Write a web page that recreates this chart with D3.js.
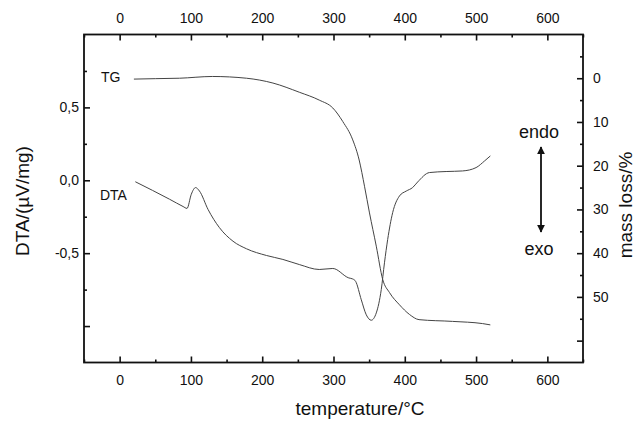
<!DOCTYPE html>
<html>
<head>
<meta charset="utf-8">
<script src="https://cdn.jsdelivr.net/npm/d3@7"></script>
<style>
  body { margin: 0; background: #fff; }
  text { font-family: "Liberation Sans", Arial, sans-serif; fill: #111; }
</style>
</head>
<body>
<svg id="chart" width="637" height="422"></svg>
<script>
// Thermal analysis data: TG (mass loss, right axis) and DTA (left axis) vs temperature
const tgTemp = [20, 50, 84, 130, 178, 215, 252, 280, 299, 313, 327, 336, 343.5, 350.5, 360, 369, 378.5, 392.5, 406.5, 420, 467, 509, 520];
const tgMass = [0.2, 0.1, 0.0, -0.4, 0.0, 1.1, 3.2, 5.0, 6.8, 9.9, 14.1, 18.7, 24.7, 30.8, 38.4, 46.0, 49.0, 51.8, 54.0, 55.2, 55.6, 56.1, 56.4];

const dtaTemp = [22, 70, 89, 94.5, 100.5, 106.5, 112, 124, 140, 159, 178, 206, 229, 252, 280, 299, 321.5, 327, 331, 339, 346, 353, 360, 367, 371.5, 376, 383, 392.5, 402, 411, 418, 434.6, 458, 481, 500, 512, 520];
const dtaValue = [-0.01, -0.13, -0.18, -0.193, -0.096, -0.05, -0.074, -0.2, -0.325, -0.418, -0.47, -0.516, -0.543, -0.578, -0.612, -0.605, -0.67, -0.677, -0.693, -0.82, -0.923, -0.96, -0.91, -0.75, -0.566, -0.406, -0.222, -0.108, -0.074, -0.05, -0.012, 0.053, 0.06, 0.064, 0.087, 0.133, 0.167];

// Axis ticks
const tempTicks = [0, 100, 200, 300, 400, 500, 600];
const tempMinorTicks = [-50, 50, 150, 250, 350, 450, 550, 650];
const dtaTicks = [-1.0, -0.5, 0.0, 0.5];
const dtaTickLabels = ["", "-0,5", "0,0", "0,5"];
const dtaMinorTicks = [-0.75, -0.25, 0.25, 0.75];
const massTicks = [0, 10, 20, 30, 40, 50, 60];
const massTickLabels = ["0", "10", "20", "30", "40", "50", ""];
const massMinorTicks = [-5, 5, 15, 25, 35, 45, 55];

(function draw() {
  const svg = d3.select("#chart");
  const box = { left: 84, right: 583, top: 34.5, bottom: 362.5 };

  const x = d3.scaleLinear().domain([-50, 650]).range([box.left, box.right]);
  const yDta = d3.scaleLinear().domain([-1.25, 1.0]).range([box.bottom, box.top]);
  const yMass = d3.scaleLinear().domain([-10, 65]).range([box.top, box.bottom]);

  const axisColor = "#111";

  function styleAxis(g) {
    g.select(".domain").remove();
    g.selectAll(".tick line").attr("stroke", axisColor).attr("stroke-width", 1.6);
    g.selectAll(".tick text").attr("font-size", 14).attr("fill", "#111");
  }

  // Bottom axis (ticks point into the plot)
  svg.append("g").attr("transform", `translate(0,${box.bottom})`)
    .call(d3.axisBottom(x).tickValues(tempTicks).tickSize(-6).tickPadding(13).tickFormat(d3.format("d")))
    .call(styleAxis);
  svg.append("g").attr("transform", `translate(0,${box.bottom})`)
    .call(d3.axisBottom(x).tickValues(tempMinorTicks).tickSize(-3).tickFormat(""))
    .call(styleAxis);

  // Top axis
  svg.append("g").attr("transform", `translate(0,${box.top})`)
    .call(d3.axisTop(x).tickValues(tempTicks).tickSize(-6).tickPadding(12).tickFormat(d3.format("d")))
    .call(styleAxis);
  svg.append("g").attr("transform", `translate(0,${box.top})`)
    .call(d3.axisTop(x).tickValues(tempMinorTicks).tickSize(-3).tickFormat(""))
    .call(styleAxis);

  // Left axis: DTA
  svg.append("g").attr("transform", `translate(${box.left},0)`)
    .call(d3.axisLeft(yDta).tickValues(dtaTicks).tickSize(-6).tickPadding(5)
      .tickFormat((d, i) => dtaTickLabels[i]))
    .call(styleAxis);
  svg.append("g").attr("transform", `translate(${box.left},0)`)
    .call(d3.axisLeft(yDta).tickValues(dtaMinorTicks).tickSize(-3).tickFormat(""))
    .call(styleAxis);

  // Right axis: mass loss
  svg.append("g").attr("transform", `translate(${box.right},0)`)
    .call(d3.axisRight(yMass).tickValues(massTicks).tickSize(-6).tickPadding(10)
      .tickFormat((d, i) => massTickLabels[i]))
    .call(styleAxis);
  svg.append("g").attr("transform", `translate(${box.right},0)`)
    .call(d3.axisRight(yMass).tickValues(massMinorTicks).tickSize(-3).tickFormat(""))
    .call(styleAxis);

  // Frame
  svg.append("rect")
    .attr("x", box.left).attr("y", box.top)
    .attr("width", box.right - box.left).attr("height", box.bottom - box.top)
    .attr("fill", "none").attr("stroke", axisColor).attr("stroke-width", 1.8);

  // Curves
  const tgLine = d3.line().x((d, i) => x(tgTemp[i])).y((d, i) => yMass(tgMass[i])).curve(d3.curveMonotoneX);
  const dtaLine = d3.line().x((d, i) => x(dtaTemp[i])).y((d, i) => yDta(dtaValue[i])).curve(d3.curveMonotoneX);

  svg.append("path").datum(tgTemp).attr("d", tgLine)
    .attr("fill", "none").attr("stroke", "#444").attr("stroke-width", 1);
  svg.append("path").datum(dtaTemp).attr("d", dtaLine)
    .attr("fill", "none").attr("stroke", "#444").attr("stroke-width", 1);

  // Curve labels
  svg.append("text").attr("x", 101).attr("y", 82).attr("font-size", 14).text("TG");
  svg.append("text").attr("x", 100).attr("y", 200).attr("font-size", 14).text("DTA");

  // endo / exo indicator
  svg.append("text").attr("x", 539).attr("y", 138).attr("font-size", 18).attr("text-anchor", "middle").text("endo");
  svg.append("text").attr("x", 539).attr("y", 255).attr("font-size", 18).attr("text-anchor", "middle").text("exo");
  const defs = svg.append("defs");
  defs.append("marker").attr("id", "head").attr("viewBox", "0 0 10 10")
    .attr("refX", 9).attr("refY", 5).attr("markerWidth", 4.5).attr("markerHeight", 4.5)
    .attr("orient", "auto-start-reverse")
    .append("path").attr("d", "M0,0L10,5L0,10Z").attr("fill", "#111");
  svg.append("line").attr("x1", 541).attr("x2", 541).attr("y1", 147).attr("y2", 232)
    .attr("stroke", "#111").attr("stroke-width", 1.8)
    .attr("marker-start", "url(#head)").attr("marker-end", "url(#head)");

  // Axis titles
  svg.append("text").attr("x", 360).attr("y", 415).attr("font-size", 19).attr("text-anchor", "middle")
    .text("temperature/°C");
  svg.append("text").attr("transform", "translate(29,201) rotate(-90)").attr("font-size", 19)
    .attr("text-anchor", "middle").text("DTA/(µV/mg)");
  svg.append("text").attr("transform", "translate(632,205) rotate(-90)").attr("font-size", 19)
    .attr("text-anchor", "middle").text("mass loss/%");
})();
</script>
</body>
</html>
